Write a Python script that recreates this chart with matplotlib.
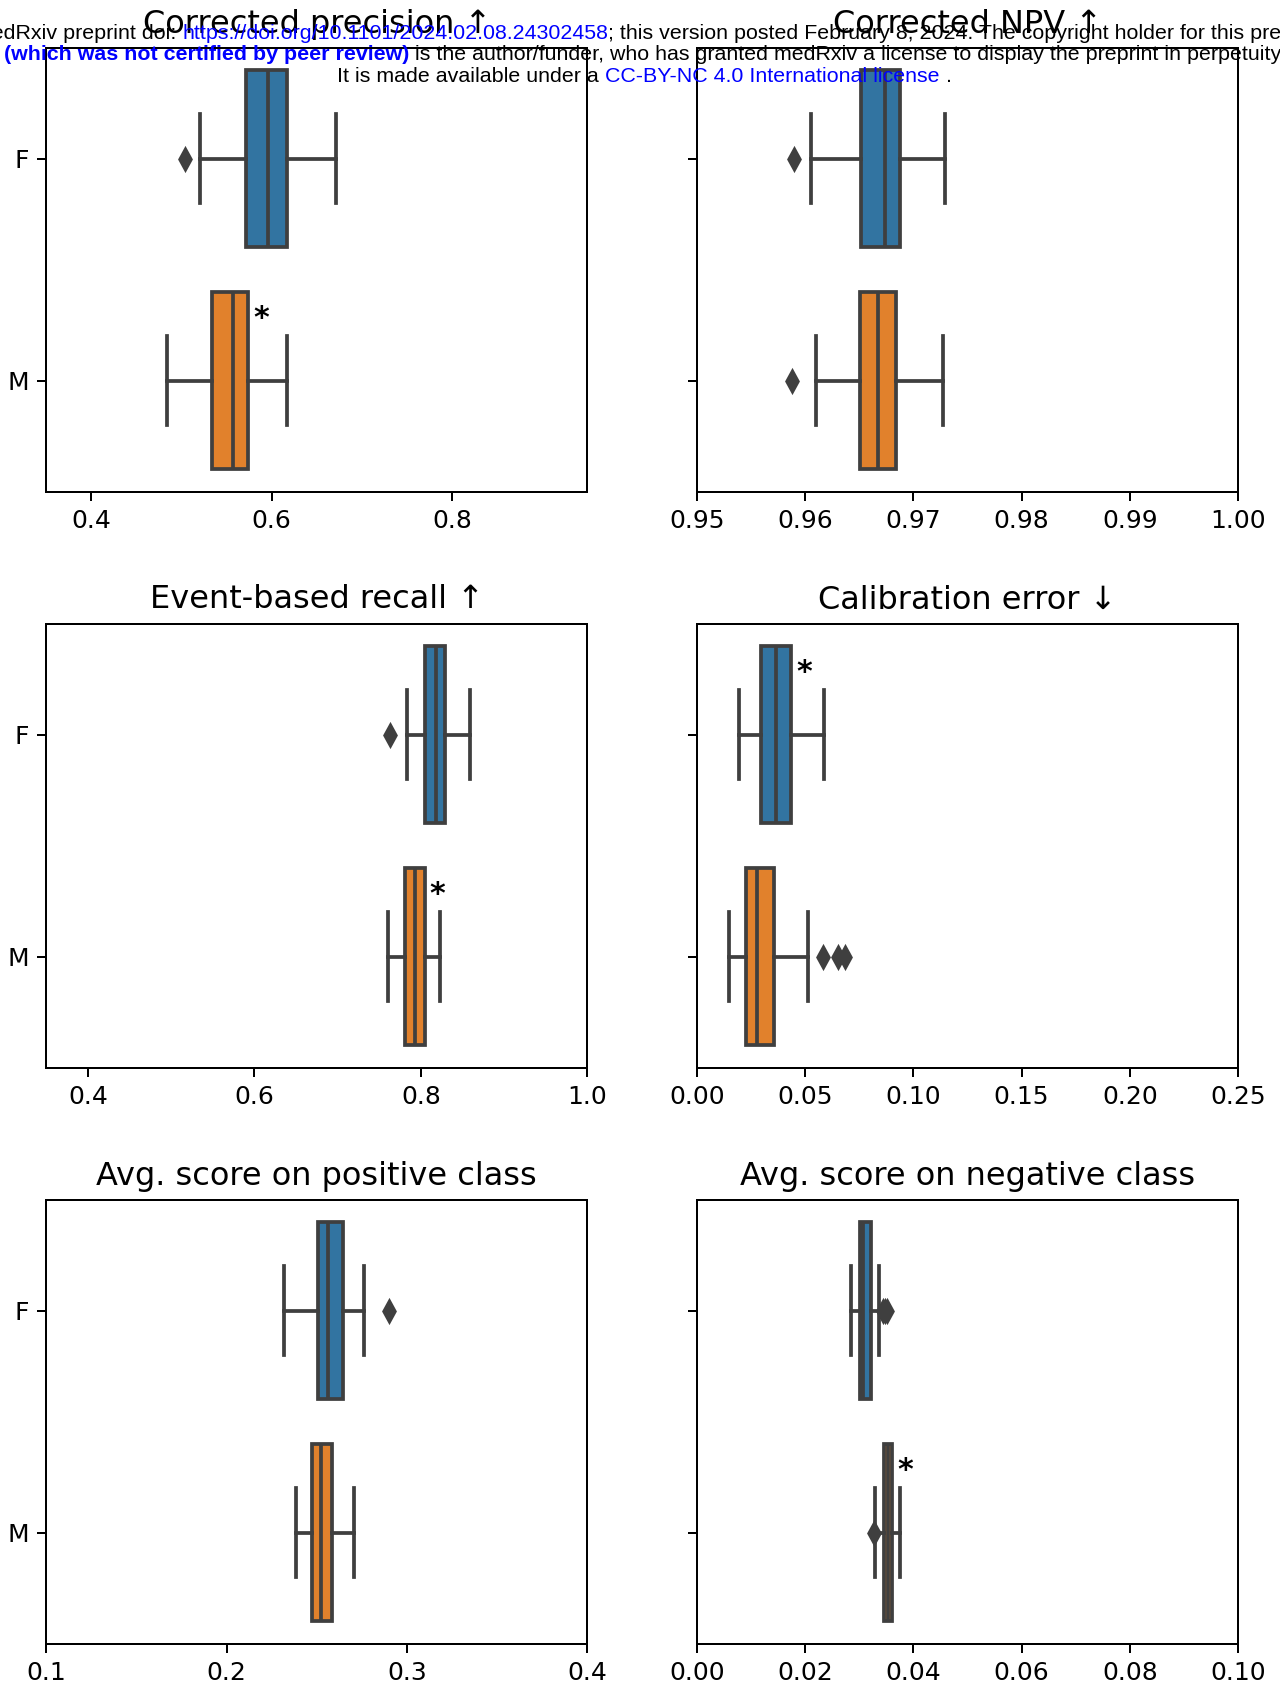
import matplotlib
matplotlib.use("Agg")
import matplotlib.pyplot as plt

# ---------------- data ----------------
categories = ["F", "M"]

titles = ["Corrected precision \u2191", "Corrected NPV \u2191",
          "Event-based recall \u2191", "Calibration error \u2193",
          "Avg. score on positive class", "Avg. score on negative class"]

# five-number summaries [whislo, q1, median, q3, whishi] for F and M
precision_stats = [[0.521, 0.571, 0.5955, 0.617, 0.671],
                   [0.484, 0.5336, 0.557, 0.574, 0.617]]
precision_fliers = [[0.504], []]

npv_stats = [[0.96057, 0.96513, 0.96736, 0.96879, 0.97291],
             [0.96102, 0.96509, 0.96675, 0.96842, 0.97275]]
npv_fliers = [[0.95894], [0.95879]]

recall_stats = [[0.7833, 0.8054, 0.8182, 0.8290, 0.8585],
                [0.7607, 0.7813, 0.7926, 0.8044, 0.8231]]
recall_fliers = [[0.7627], []]

calib_stats = [[0.01943, 0.02962, 0.03642, 0.0434, 0.05868],
               [0.01472, 0.02264, 0.02774, 0.03547, 0.05151]]
calib_fliers = [[], [0.0581, 0.0651, 0.0683]]

pos_stats = [[0.2318, 0.2506, 0.2562, 0.2644, 0.2759],
             [0.2386, 0.2476, 0.2521, 0.2585, 0.2709]]
pos_fliers = [[0.2902], []]

neg_stats = [[0.02853, 0.03019, 0.03072, 0.03215, 0.03366],
             [0.03298, 0.03449, 0.03525, 0.0360, 0.03758]]
neg_fliers = [[0.0343, 0.0347, 0.0351], [0.03268]]

# categories marked as significant (asterisk)
precision_sig = ["M"]
npv_sig = []
recall_sig = ["M"]
calib_sig = ["F"]
pos_sig = []
neg_sig = ["M"]

xlims = [(0.35, 0.95), (0.95, 1.00), (0.35, 1.0), (0.0, 0.25), (0.1, 0.4), (0.0, 0.10)]
xticks = [[0.4, 0.6, 0.8],
          [0.95, 0.96, 0.97, 0.98, 0.99, 1.00],
          [0.4, 0.6, 0.8, 1.0],
          [0.00, 0.05, 0.10, 0.15, 0.20, 0.25],
          [0.1, 0.2, 0.3, 0.4],
          [0.00, 0.02, 0.04, 0.06, 0.08, 0.10]]
xticklabels = [["0.4", "0.6", "0.8"],
               ["0.95", "0.96", "0.97", "0.98", "0.99", "1.00"],
               ["0.4", "0.6", "0.8", "1.0"],
               ["0.00", "0.05", "0.10", "0.15", "0.20", "0.25"],
               ["0.1", "0.2", "0.3", "0.4"],
               ["0.00", "0.02", "0.04", "0.06", "0.08", "0.10"]]

header_line1 = ["medRxiv preprint doi: ", "https://doi.org/10.1101/2024.02.08.24302458",
                "; this version posted February 8, 2024. The copyright holder for this preprint"]
header_line2 = ["(which was not certified by peer review)",
                " is the author/funder, who has granted medRxiv a license to display the preprint in perpetuity."]
header_line3 = ["It is made available under a ", "CC-BY-NC 4.0 International license", " ."]

# ---------------- style ----------------
BLUE = "#3274a1"
ORANGE = "#e1812c"
GRAY = "#3f3f3f"
box_colors = [BLUE, ORANGE]

DPI = 180
fig = plt.figure(figsize=(1280 / DPI, 1687 / DPI), dpi=DPI)

W, H = 1280.0, 1687.0
col_left = [46.3, 697.0]
ax_w = 541.0
row_top = [47.5, 623.5, 1199.5]
ax_h = 444.0

panels = [
    (precision_stats, precision_fliers, precision_sig),
    (npv_stats, npv_fliers, npv_sig),
    (recall_stats, recall_fliers, recall_sig),
    (calib_stats, calib_fliers, calib_sig),
    (pos_stats, pos_fliers, pos_sig),
    (neg_stats, neg_fliers, neg_sig),
]

for i, (stats, fliers, sig) in enumerate(panels):
    r, c = divmod(i, 2)
    ax = fig.add_axes([col_left[c] / W, 1 - (row_top[r] + ax_h) / H, ax_w / W, ax_h / H])
    bstats = []
    for k, cat in enumerate(categories):
        lo, q1, med, q3, hi = stats[k]
        bstats.append(dict(whislo=lo, q1=q1, med=med, q3=q3, whishi=hi,
                           fliers=fliers[k], label=cat))
    kw = dict(positions=list(range(len(categories))), widths=0.8, patch_artist=True,
              manage_ticks=False,
              boxprops=dict(edgecolor=GRAY, linewidth=1.5),
              medianprops=dict(color=GRAY, linewidth=1.5),
              whiskerprops=dict(color=GRAY, linewidth=1.5),
              capprops=dict(color=GRAY, linewidth=1.5),
              flierprops=dict(marker="d", markerfacecolor=GRAY, markeredgecolor=GRAY,
                              markersize=6, linestyle="none"))
    try:
        art = ax.bxp(bstats, orientation="horizontal", **kw)
    except TypeError:
        art = ax.bxp(bstats, vert=False, **kw)
    for patch, col in zip(art["boxes"], box_colors):
        patch.set_facecolor(col)
    for cat in sig:
        k = categories.index(cat)
        ax.annotate("*", xy=(stats[k][3], k - 0.30), xytext=(13, -5),
                    textcoords="offset pixels", ha="center", va="center",
                    fontsize=12, fontweight="bold", color="black")
    ax.set_xlim(*xlims[i])
    ax.set_xticks(xticks[i])
    ax.set_xticklabels(xticklabels[i])
    ax.set_ylim(len(categories) - 0.5, -0.5)
    ax.set_yticks(range(len(categories)))
    if c == 0:
        ax.set_yticklabels(categories)
    else:
        ax.set_yticklabels([])
    ax.set_title(titles[i], fontsize=12.8)
    ax.tick_params(labelsize=10)

# ---------------- medRxiv header ----------------
renderer = fig.canvas.get_renderer()
HFONT = ["Liberation Sans", "DejaVu Sans"]
hsize = 8.55
center_x = 644.5
lines = [
    (header_line1, ["black", "blue", "black"], ["normal", "normal", "normal"], 39.2, 4.0),
    (header_line2, ["blue", "black"], ["bold", "normal"], 60.3, 0.0),
    (header_line3, ["black", "blue", "black"], ["normal", "normal", "normal"], 81.5, 0.0),
]
for parts, cols, weights, base, dx in lines:
    texts = []
    for p, col, wt in zip(parts, cols, weights):
        t = fig.text(0, 1 - base / H, p, color=col, fontweight=wt, family=HFONT,
                     fontsize=hsize, ha="left", va="baseline", zorder=10)
        texts.append(t)
    widths = [t.get_window_extent(renderer).width for t in texts]
    x = center_x + dx - sum(widths) / 2.0
    for t, w in zip(texts, widths):
        t.set_x(x / W)
        x += w

fig.savefig("out.png", dpi=DPI)
